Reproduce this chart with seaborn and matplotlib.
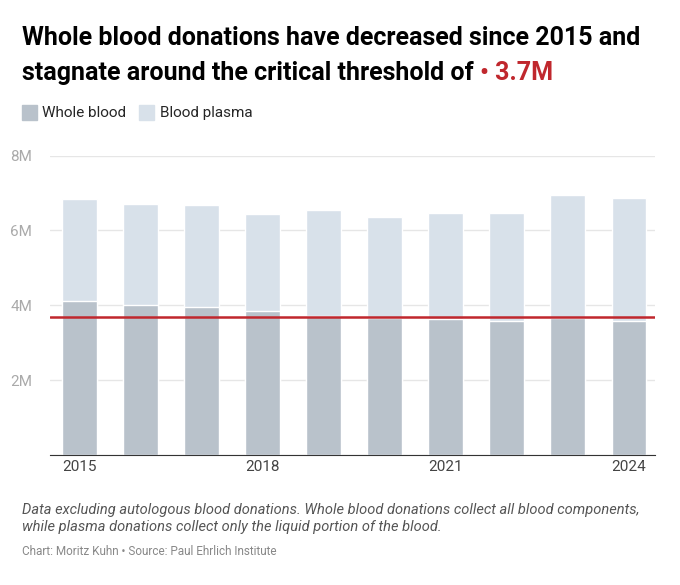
import matplotlib
matplotlib.use("Agg")
import matplotlib.pyplot as plt
import seaborn as sns
import pandas as pd

years = [2015, 2016, 2017, 2018, 2019, 2020, 2021, 2022, 2023, 2024]
whole_blood = [4.13, 4.00, 3.95, 3.84, 3.71, 3.65, 3.63, 3.57, 3.65, 3.57]
total = [6.83, 6.72, 6.69, 6.45, 6.56, 6.37, 6.48, 6.48, 6.96, 6.88]
threshold = 3.7
yticks = [0, 2, 4, 6, 8]
ytick_labels = ["", "2M", "4M", "6M", "8M"]

sns.set_style("white")
plt.rcParams['font.family'] = ['Roboto', 'DejaVu Sans']

df = pd.DataFrame({"year": [str(y) for y in years], "whole": whole_blood, "total": total})

fig = plt.figure(figsize=(6.8, 5.85), dpi=100)
ax = fig.add_axes([0.0735, 0.222, 0.89, 0.512])
sns.barplot(data=df, x="year", y="total", color="#d8e1ea", width=0.57, ax=ax, saturation=1)
sns.barplot(data=df, x="year", y="whole", color="#b9c2cb", width=0.57, ax=ax, saturation=1)
ax.axhline(threshold, color="#c0272d", lw=1.8, zorder=5)

ax.set_ylim(0, 8)
ax.set_yticks(yticks)
ax.set_yticklabels(ytick_labels, color="#aaaaaa", fontsize=11)
ax.yaxis.grid(True, color="#e6e6e6", lw=1)
ax.set_axisbelow(True)
ax.tick_params(axis="y", length=0, pad=-2)
for lab in ax.get_yticklabels():
    lab.set_horizontalalignment("left")
    lab.set_x(-0.07)
ax.set_xticks([0, 3, 6, 9])
ax.set_xticklabels(["2015", "2018", "2021", "2024"], fontsize=11, color="#444444")
ax.tick_params(axis="x", length=0)
ax.set_xlabel(""); ax.set_ylabel("")
for s in ["top", "right", "left"]:
    ax.spines[s].set_visible(False)
ax.spines["bottom"].set_color("#333333")
ax.set_xlim(-0.48, 9.43)

fig.text(0.032, 0.955, "Whole blood donations have decreased since 2015 and", fontsize=18, fontweight="bold", va="top", color="black")
t = fig.text(0.032, 0.895, "stagnate around the critical threshold of ", fontsize=18, fontweight="bold", va="top", color="black")
fig.canvas.draw()
bb = t.get_window_extent()
fig.text(bb.x1 / fig.bbox.width, 0.895, "• 3.7M", fontsize=18, fontweight="bold", va="top", color="#c0272d")

fig.patches.append(plt.Rectangle((0.032, 0.795), 0.022, 0.026, transform=fig.transFigure, color="#b9c2cb"))
fig.text(0.062, 0.807, "Whole blood", fontsize=11, va="center")
fig.patches.append(plt.Rectangle((0.205, 0.795), 0.022, 0.026, transform=fig.transFigure, color="#d8e1ea"))
fig.text(0.235, 0.807, "Blood plasma", fontsize=11, va="center")

fig.text(0.032, 0.140, "Data excluding autologous blood donations. Whole blood donations collect all blood components,\nwhile plasma donations collect only the liquid portion of the blood.",
         fontsize=10.5, style="italic", color="#555555", va="top", linespacing=1.3)
fig.text(0.032, 0.068, "Chart: Moritz Kuhn • Source: Paul Ehrlich Institute", fontsize=8.5, color="#888888", va="top")

fig.savefig("out.png", dpi=100)
